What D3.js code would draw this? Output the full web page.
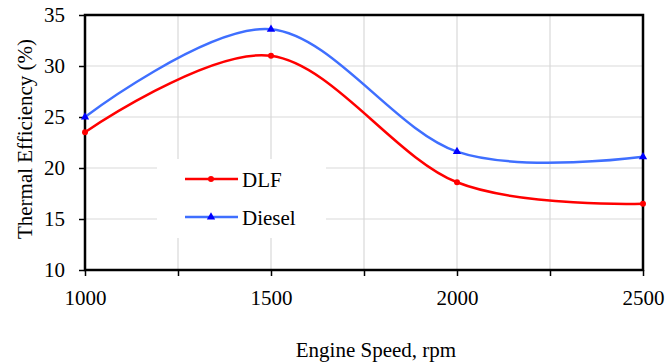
<!DOCTYPE html>
<html><head><meta charset="utf-8">
<script src="https://cdn.jsdelivr.net/npm/d3@7"></script>
<style>body{margin:0;background:#fff}svg{display:block}</style>
</head><body><svg id="c" width="666" height="363"></svg>
<script>
const speeds = [1000, 1500, 2000, 2500];
const dlf = [23.5, 31.0, 18.6, 16.5];
const diesel = [25.0, 33.6, 21.6, 21.1];
const xTicks = [1000, 1500, 2000, 2500];
const xGrid = [1250, 1500, 1750, 2000, 2250];
const yTicks = [10, 15, 20, 25, 30, 35];

const FONT = '"Liberation Serif"';
const FS = "21px";
const svg = d3.select("#c");
const L = 85, R = 643, T = 15, B = 270;
const x = d3.scaleLinear().domain([1000, 2500]).range([L, R]);
const y = d3.scaleLinear().domain([10, 35]).range([B, T]);

// grid
svg.append("g").selectAll("line").data(yTicks.slice(1, -1)).join("line")
  .attr("x1", L).attr("x2", R).attr("y1", d => y(d)).attr("y2", d => y(d))
  .attr("stroke", "#d9d9d9").attr("stroke-width", 1.2);
svg.append("g").selectAll("line").data(xGrid).join("line")
  .attr("y1", T).attr("y2", B).attr("x1", d => x(d)).attr("x2", d => x(d))
  .attr("stroke", "#d9d9d9").attr("stroke-width", 1.2);

// axes
const yAxis = svg.append("g").attr("transform", `translate(${L},0)`)
  .call(d3.axisLeft(y).tickValues(yTicks).tickSize(6).tickPadding(14));
const xAxis = svg.append("g").attr("transform", `translate(0,${B})`)
  .call(d3.axisBottom(x).tickValues(d3.range(1000, 2501, 250)).tickSize(6).tickPadding(14)
    .tickFormat(d => xTicks.includes(d) ? d : ""));
[yAxis, xAxis].forEach(g => {
  g.attr("font-family", null).attr("font-size", null);
  g.select(".domain").remove();
  g.selectAll("line").attr("stroke", "#000").attr("stroke-width", 1.5);
  g.selectAll("text").style("font-family", FONT).style("font-size", FS).attr("fill", "#000");
});

// box
svg.append("rect").attr("x", L).attr("y", T).attr("width", R - L).attr("height", B - T)
  .attr("fill", "none").attr("stroke", "#000").attr("stroke-width", 2.5);

// series
const series = [
  {name: "DLF", vals: dlf, color: "#ff0000", mcolor: "#ff0000", marker: "circle"},
  {name: "Diesel", vals: diesel, color: "#3f6fff", mcolor: "#0000ff", marker: "triangle"}
];
const line = d3.line().x(d => x(d[0])).y(d => y(d[1])).curve(d3.curveCardinal.tension(0));
const sym = m => d3.symbol().type(m === "circle" ? d3.symbolCircle : d3.symbolTriangle).size(m === "circle" ? 28 : 30);
series.forEach(s => {
  const pts = speeds.map((v, i) => [v, s.vals[i]]);
  svg.append("path").attr("d", line(pts)).attr("fill", "none").attr("stroke", s.color).attr("stroke-width", 2.5);
  svg.append("g").selectAll("path").data(pts).join("path")
    .attr("transform", d => `translate(${x(d[0])},${y(d[1])})`)
    .attr("d", sym(s.marker)()).attr("fill", s.mcolor);
});

// legend
const lg = svg.append("g");
lg.append("rect").attr("x", 157).attr("y", 159).attr("width", 169).attr("height", 79).attr("fill", "#fff");
series.forEach((s, i) => {
  const yy = 179 + i * 38;
  lg.append("line").attr("x1", 185).attr("x2", 238).attr("y1", yy).attr("y2", yy).attr("stroke", s.color).attr("stroke-width", 2.5);
  lg.append("path").attr("transform", `translate(211,${yy})`).attr("d", sym(s.marker)()).attr("fill", s.mcolor);
  lg.append("text").attr("x", 242).attr("y", yy + 8).style("font-family", FONT).style("font-size", FS).text(s.name);
});

// titles
svg.append("text").attr("x", 376).attr("y", 357).attr("text-anchor", "middle").style("font-family", FONT).style("font-size", FS).text("Engine Speed, rpm");
svg.append("text").attr("transform", "translate(32,139) rotate(-90)").attr("text-anchor", "middle").style("font-family", FONT).style("font-size", FS).text("Thermal Efficiency (%)");
</script></body></html>
